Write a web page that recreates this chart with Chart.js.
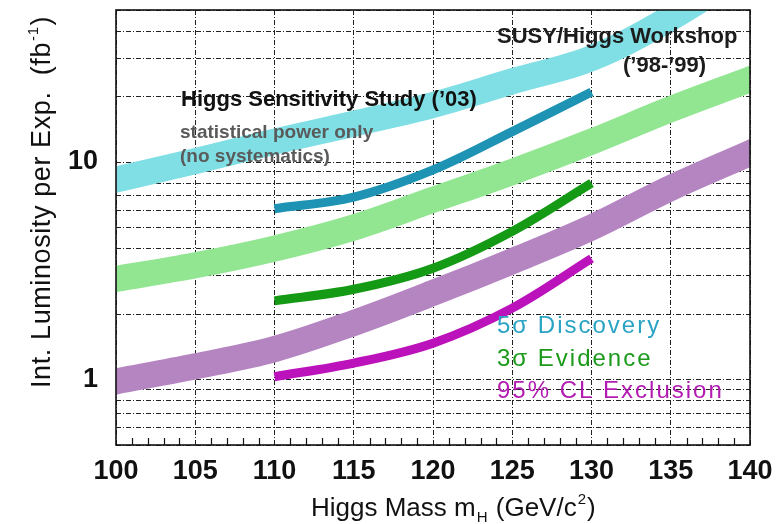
<!DOCTYPE html>
<html>
<head>
<meta charset="utf-8">
<script src="https://cdn.jsdelivr.net/npm/chart.js@4/dist/chart.umd.min.js"></script>
<style>
  html, body { margin: 0; padding: 0; background: #fff; }
</style>
</head>
<body>
<canvas id="lumi" width="784" height="524"></canvas>
<script>
'use strict';

// Higgs masses (GeV/c^2)
const massOld = [100, 105, 110, 115, 120, 125, 130, 135, 140];
const massNew = [110, 115, 120, 125, 130];

// SUSY/Higgs Workshop ('98-'99) bands, fb^-1
const discoveryOld = [8.3, 10.1, 12.4, 15.0, 18.3, 23.5, 30, 46, 78];
const evidenceOld = [2.9, 3.35, 4.0, 5.0, 6.7, 9.0, 12.4, 17.5, 24];
const exclusionOld = [0.98, 1.15, 1.38, 1.82, 2.5, 3.5, 5.0, 7.6, 11];

// Higgs Sensitivity Study ('03)
const discoveryNew = [6.1, 6.9, 9.2, 13.8, 21];
const evidenceNew = [2.3, 2.6, 3.25, 4.8, 8.0];
const exclusionNew = [1.03, 1.19, 1.47, 2.13, 3.6];

// axis grid values and labels
const yGrid = [0.5, 0.6, 0.7, 0.8, 0.9, 1, 2, 3, 4, 5, 6, 7, 8, 9, 10, 20, 30, 40, 50];
const yLabels = { 1: '1', 10: '10' };

const FONT = '"Liberation Sans", Arial, sans-serif';

function pts(xs, ys) {
    return xs.map((x, i) => ({ x: x, y: ys[i] }));
}

function band(label, xs, ys, color) {
    return {
        label: label,
        data: pts(xs, ys),
        borderColor: color,
        borderWidth: 26,
        borderCapStyle: 'square',
        tension: 0.35,
        pointRadius: 0,
        fill: false,
        clip: 0
    };
}

function curve(label, xs, ys, color) {
    return {
        label: label,
        data: pts(xs, ys),
        borderColor: color,
        borderWidth: 9,
        borderCapStyle: 'butt',
        tension: 0.35,
        pointRadius: 0,
        fill: false,
        clip: 0
    };
}

// draws text with a raised/lowered small part
function richText(ctx, parts, x, y, big, small) {
    for (const p of parts) {
        ctx.font = (p.dy ? small : big) + 'px ' + FONT;
        ctx.fillText(p.t, x + (p.dy ? 1 : 0), y + (p.dy || 0));
        x += ctx.measureText(p.t).width + (p.dy ? 2 : 0);
    }
    return x;
}

// frame, minor ticks, annotations and axis titles
const decor = {
    id: 'decor',
    afterDatasetsDraw(chart) {
        const ctx = chart.ctx, a = chart.chartArea, xs = chart.scales.x;
        ctx.save();

        // minor x ticks along the bottom
        ctx.strokeStyle = '#111';
        ctx.lineWidth = 1.2;
        for (let m = 101; m < 140; m++) {
            if (m % 5 === 0) continue;
            const px = Math.round(xs.getPixelForValue(m)) + 0.5;
            ctx.beginPath();
            ctx.moveTo(px, a.bottom);
            ctx.lineTo(px, a.bottom - 7);
            ctx.stroke();
        }

        // frame
        ctx.lineWidth = 1.6;
        ctx.strokeStyle = '#111';
        ctx.strokeRect(a.left, a.top, a.right - a.left, a.bottom - a.top);

        ctx.textBaseline = 'middle';
        ctx.textAlign = 'left';

        ctx.fillStyle = '#1c1c1c';
        ctx.font = 'bold 22px ' + FONT;
        ctx.fillText('SUSY/Higgs Workshop', 497, 37);
        ctx.fillText('(\u201998-\u201999)', 623, 66);

        ctx.fillStyle = '#111';
        ctx.fillText('Higgs Sensitivity Study (\u201903)', 181, 100);

        ctx.fillStyle = '#5a5a5a';
        ctx.font = 'bold 19px ' + FONT;
        ctx.fillText('statistical power only', 180, 133);
        ctx.fillText('(no systematics)', 180, 157);

        ctx.font = '24px ' + FONT;
        ctx.letterSpacing = '2px';
        ctx.fillStyle = '#2aa3c4';
        ctx.fillText('5\u03c3 Discovery', 497, 326);
        ctx.fillStyle = '#1b9a1b';
        ctx.fillText('3\u03c3 Evidence', 497, 359);
        ctx.fillStyle = '#b21cb2';
        ctx.fillText('95% CL Exclusion', 497, 391);
        ctx.letterSpacing = '0px';

        // x title
        ctx.fillStyle = '#111';
        ctx.textBaseline = 'alphabetic';
        richText(ctx, [
            { t: 'Higgs Mass m' }, { t: 'H', dy: 6 },
            { t: ' (GeV/c' }, { t: '2', dy: -12 }, { t: ')' }
        ], 311, 516, 26, 15);

        // y title (rotated)
        ctx.save();
        ctx.translate(50, 388);
        ctx.rotate(-Math.PI / 2);
        ctx.letterSpacing = '0.6px';
        richText(ctx, [
            { t: 'Int. Luminosity per Exp.  (fb' }, { t: '-1', dy: -12 }, { t: ')' }
        ], 0, 0, 27, 15);
        ctx.restore();

        ctx.restore();
    }
};

const gridStyle = {
    color: '#222',
    lineWidth: 1,
    drawTicks: false,
    tickLength: 0
};

new Chart(document.getElementById('lumi').getContext('2d'), {
    type: 'line',
    data: {
        datasets: [
            band('5\u03c3 Discovery (98-99)', massOld, discoveryOld, '#7fdfe4'),
            band('3\u03c3 Evidence (98-99)', massOld, evidenceOld, '#92e692'),
            band('95% CL Exclusion (98-99)', massOld, exclusionOld, '#b585c2'),
            curve('5\u03c3 Discovery (03)', massNew, discoveryNew, '#1f93b4'),
            curve('3\u03c3 Evidence (03)', massNew, evidenceNew, '#159a15'),
            curve('95% CL Exclusion (03)', massNew, exclusionNew, '#bb12bb')
        ]
    },
    options: {
        responsive: false,
        animation: false,
        devicePixelRatio: 1,
        layout: { padding: { top: 10, right: 34, left: 0, bottom: 0 } },
        plugins: {
            legend: { display: false },
            tooltip: { enabled: false }
        },
        scales: {
            x: {
                type: 'linear',
                min: 100,
                max: 140,
                border: { display: false, dash: [5, 2, 1, 2] },
                grid: gridStyle,
                ticks: {
                    stepSize: 5,
                    padding: 10,
                    color: '#111',
                    font: { family: FONT, size: 27, weight: 'bold' },
                    maxRotation: 0
                },
                afterFit(s) {
                    s.height = 79;
                    s.paddingLeft = 0;
                    s.paddingRight = 0;
                }
            },
            y: {
                type: 'logarithmic',
                min: 0.5,
                max: 50,
                border: { display: false, dash: [5, 2, 1, 2] },
                grid: gridStyle,
                afterBuildTicks(s) { s.ticks = yGrid.map(v => ({ value: v })); },
                ticks: {
                    autoSkip: false,
                    padding: 18,
                    color: '#111',
                    font: { family: FONT, size: 27, weight: 'bold' },
                    callback: v => yLabels[v] || ''
                },
                afterFit(s) {
                    s.width = 116;
                    s.paddingTop = 0;
                    s.paddingBottom = 0;
                }
            }
        }
    },
    plugins: [decor]
});
</script>
</body>
</html>
